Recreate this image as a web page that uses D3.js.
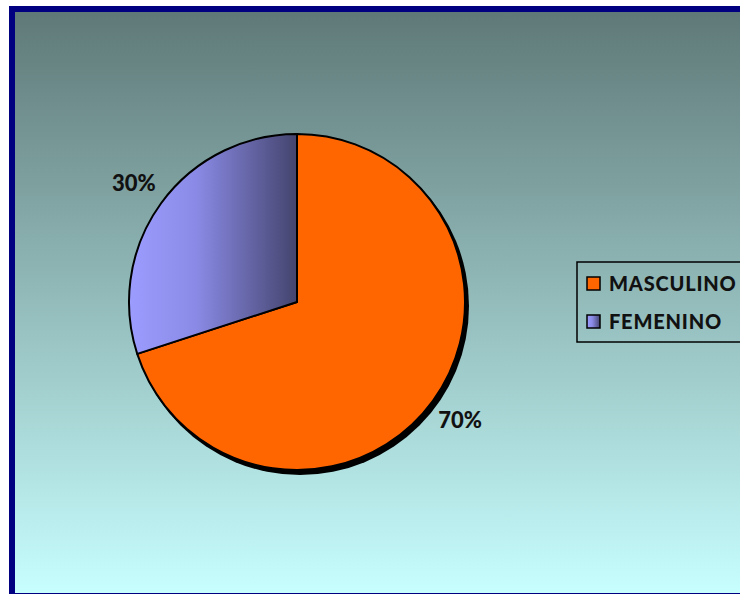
<!DOCTYPE html>
<html>
<head>
<meta charset="utf-8">
<script src="https://cdn.jsdelivr.net/npm/d3@7"></script>
<style>
  body { margin: 0; background: #fff; }
  text { font-family: "Lato", "DejaVu Sans", sans-serif; font-weight: 900; fill: #111; }
</style>
</head>
<body>
<div id="chart"></div>
<script>
const categories = ["MASCULINO", "FEMENINO"];
const values = [70, 30];
const pctLabels = ["70%", "30%"];

const width = 740, height = 594;
const cx = 297, cy = 302, r = 168;

const svg = d3.select("#chart").append("svg")
  .attr("width", width)
  .attr("height", height);

const defs = svg.append("defs");

const bg = defs.append("linearGradient").attr("id", "bg")
  .attr("x1", 0).attr("y1", 0).attr("x2", 0).attr("y2", 1);
bg.append("stop").attr("offset", 0).attr("stop-color", "#5e7877");
bg.append("stop").attr("offset", 0.5).attr("stop-color", "#93bcbb");
bg.append("stop").attr("offset", 1).attr("stop-color", "#c8ffff");

const fem = defs.append("linearGradient").attr("id", "fem")
  .attr("x1", 0).attr("y1", 0).attr("x2", 1).attr("y2", 0);
fem.append("stop").attr("offset", 0).attr("stop-color", "#9c9cff");
fem.append("stop").attr("offset", 0.4).attr("stop-color", "#8a8ae6");
fem.append("stop").attr("offset", 1).attr("stop-color", "#44446e");

// frame
svg.append("rect")
  .attr("x", 12).attr("y", 9)
  .attr("width", width + 20).attr("height", 587)
  .attr("fill", "url(#bg)")
  .attr("stroke", "#000080")
  .attr("stroke-width", 6);

const color = d3.scaleOrdinal().domain(categories).range(["#ff6600", "url(#fem)"]);

const pie = d3.pie().sort(null).value(d => d.value);
const arcs = pie(categories.map((c, i) => ({ cat: c, value: values[i], label: pctLabels[i] })));
const arc = d3.arc().innerRadius(0).outerRadius(r);

const g = svg.append("g").attr("transform", `translate(${cx},${cy})`);

// shadow
g.append("circle")
  .attr("cx", 3).attr("cy", 4).attr("r", r + 1)
  .attr("fill", "#000");

g.selectAll("path.slice")
  .data(arcs)
  .enter()
  .append("path")
  .attr("class", "slice")
  .attr("d", arc)
  .attr("fill", d => color(d.data.cat))
  .attr("stroke", "#000")
  .attr("stroke-width", 2)
  .attr("stroke-linejoin", "round");

const labelArc = d3.arc().innerRadius(r * 1.2).outerRadius(r * 1.2);
g.selectAll("text.pct")
  .data(arcs)
  .enter()
  .append("text")
  .attr("class", "pct")
  .attr("transform", d => {
    const [x, y] = labelArc.centroid(d);
    return `translate(${x},${y})`;
  })
  .attr("text-anchor", "middle")
  .attr("dy", "0.35em")
  .attr("font-size", 22)
  .text(d => d.data.label);

// legend
const legend = svg.append("g").attr("transform", "translate(577,262)");
legend.append("rect")
  .attr("x", 0).attr("y", 0)
  .attr("width", 200).attr("height", 80)
  .attr("fill", "none")
  .attr("stroke", "#000")
  .attr("stroke-width", 1.5);

const item = legend.selectAll("g.item")
  .data(categories)
  .enter()
  .append("g")
  .attr("class", "item")
  .attr("transform", (d, i) => `translate(10,${15 + i * 38})`);

item.append("rect")
  .attr("width", 13).attr("height", 13)
  .attr("fill", d => color(d))
  .attr("stroke", "#000")
  .attr("stroke-width", 1.5);

item.append("text")
  .attr("x", 22).attr("y", 7)
  .attr("dy", "0.36em")
  .attr("font-size", 20)
  .attr("letter-spacing", 0.8)
  .text(d => d);
</script>
</body>
</html>
